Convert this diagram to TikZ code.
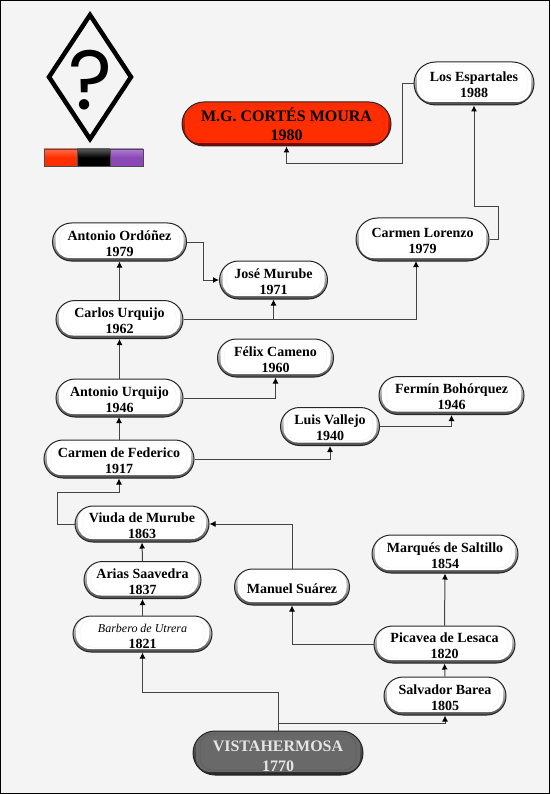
\documentclass[tikz,border=0pt]{standalone}
\usepackage{fontspec}
\setmainfont{Liberation Serif}
\newfontfamily\marksans{Poppins}
\usetikzlibrary{shapes.misc,shapes.geometric,arrows.meta}
\definecolor{paper}{HTML}{F4F4F4}
\definecolor{linkgray}{HTML}{444444}
\definecolor{mousered}{HTML}{FF2E00}
\definecolor{mousegrey}{HTML}{696969}
\definecolor{markviolet}{HTML}{8A48B8}
\newcommand{\down}{\rule{0pt}{12.5pt}}
\begin{document}
\begin{tikzpicture}[x=1pt,y=-1pt,
            shell/.style n args={3}{rounded rectangle, draw=black!85, line width=1pt, inner sep=0pt, align=center,
                top color=#1, middle color=#1, bottom color=#2,
                path picture={\fill[#1,rounded corners=14pt] ([shift={(3pt,3pt)}]path picture bounding box.south west) rectangle ([shift={(-3pt,-1pt)}]path picture bounding box.north east);
                    \draw[#3,line width=0.5pt,rounded corners=12pt] ([shift={(7pt,5pt)}]path picture bounding box.south west) rectangle ([shift={(-7pt,-3pt)}]path picture bounding box.north east);}},
            pill/.style={shell={white}{black!70}{black!5}, font=\fontsize{14}{16}\selectfont\bfseries},
            redpill/.style={shell={mousered}{red!50!black}{mousered!88!black}, font=\fontsize{16}{19}\selectfont\bfseries},
            greypill/.style={shell={mousegrey}{black!85}{mousegrey!88!black}, text=white!90!black, font=\fontsize{16}{20}\selectfont\bfseries},
            link/.style={draw=linkgray, line width=1pt},
            arrow/.style={link, -{Latex[black,length=6pt,width=6pt]}},
            bar/.style={draw=black!70, line width=0.5pt, minimum width=33pt, minimum height=17pt, inner sep=0pt}
            ]
            \fill[paper] (0,0) rectangle (550,794);
            \draw[black, line width=1pt] (0.5,0.5) rectangle (549.5,793.5);
            \useasboundingbox (0,0) rectangle (550,794);

            % mark
            \draw[black, line width=4.5pt, miter limit=10] (90,15) -- (131,77) -- (90,139) -- (49,77) -- cycle;
            \node[inner sep=0pt] (query) at (91,80) {\marksans\fontsize{84}{84}\selectfont ?};
            \node[bar, top color=mousered!70!white, bottom color=mousered, middle color=mousered] (barA) at (60.5,157.5) {};
            \node[bar, top color=black!65, bottom color=black, middle color=black] (barB) at (93.5,157.5) {};
            \node[bar, top color=markviolet!70!white, bottom color=markviolet, middle color=markviolet] (barC) at (126.5,157.5) {};

            % mares
            \node[pill, minimum width=120pt, minimum height=43pt] (esp) at (474,83.5) {\down Los Espartales\\1988};
            \node[redpill, minimum width=209pt, minimum height=44pt] (moura) at (286.5,124) {M.G. CORTÉS MOURA\\1980};
            \node[pill, minimum width=133pt, minimum height=43pt] (lorenzo) at (422.5,239.5) {\down Carmen Lorenzo\\1979};
            \node[pill, minimum width=134pt, minimum height=38pt] (ordonez) at (119.5,242) {\down Antonio Ordóñez\\1979};
            \node[pill, minimum width=108pt, minimum height=38pt] (jose) at (273.5,280) {\down José Murube\\1971};
            \node[pill, minimum width=127pt, minimum height=38pt] (carlos) at (119.5,319.5) {\down Carlos Urquijo\\1962};
            \node[pill, minimum width=116pt, minimum height=38pt] (felix) at (275.5,358) {\down Félix Cameno\\1960};
            \node[pill, minimum width=127pt, minimum height=38pt] (antonio) at (119.5,398) {\down Antonio Urquijo\\1946};
            \node[pill, minimum width=145pt, minimum height=38pt] (fermin) at (451.5,395.5) {\down Fermín Bohórquez\\1946};
            \node[pill, minimum width=99pt, minimum height=38pt] (luis) at (330,426.5) {\down Luis Vallejo\\1940};
            \node[pill, minimum width=150pt, minimum height=38pt] (federico) at (119,459) {\down Carmen de Federico\\1917};
            \node[pill, minimum width=134pt, minimum height=36pt] (viuda) at (142,524) {\down Viuda de Murube\\1863};
            \node[pill, minimum width=117pt, minimum height=37pt] (arias) at (142.5,580) {\down Arias Saavedra\\1837};
            \node[pill, minimum width=139pt, minimum height=36pt] (barbero) at (142.5,634) {\down\textit{\mdseries\fontsize{12}{16}\selectfont Barbero de Utrera}\\1821};
            \node[pill, minimum width=146pt, minimum height=38pt] (saltillo) at (445,554) {\down Marqués de Saltillo\\1854};
            \node[pill, minimum width=115pt, minimum height=36pt] (suarez) at (292,587) {\down Manuel Suárez};
            \node[pill, minimum width=141pt, minimum height=37pt] (picavea) at (444.5,644.5) {\down Picavea de Lesaca\\1820};
            \node[pill, minimum width=122pt, minimum height=38pt] (barea) at (445,696) {\down Salvador Barea\\1805};
            \node[greypill, minimum width=170pt, minimum height=44pt] (vista) at (278,753) {\rule{0pt}{16.5pt}VISTAHERMOSA\\1770};

            % links
            \draw[arrow] (esp.west) -- (402,83.5) |- (286.5,164) -- (moura.south);
            \draw[arrow] (lorenzo.east) -- (498,239.5) |- (474,207) -- (esp.south);
            \draw[arrow] (carlos.east) -| (416,261);
            \draw[arrow] (273.5,319.5) -- (jose.south);
            \draw[arrow] (ordonez.east) -- (203,242) |- (jose.west);
            \draw[arrow] (carlos.north) -- (ordonez.south);
            \draw[arrow] (antonio.north) -- (carlos.south);
            \draw[arrow] (antonio.east) -| (felix.south);
            \draw[arrow] (federico.north) -- (119,417);
            \draw[arrow] (federico.east) -| (luis.south);
            \draw[arrow] (luis.east) -| (fermin.south);
            \draw[arrow] (viuda.west) -- (57,524) |- (119,492) -- (federico.south);
            \draw[arrow] (arias.north) -- (viuda.south);
            \draw[arrow] (barbero.north) -- (arias.south);
            \draw[arrow] (vista.north) |- (142.5,692) -- (barbero.south);
            \draw[arrow] (278,723) -| (barea.south);
            \draw[arrow] (barea.north) -- (picavea.south);
            \draw[arrow] (picavea.north) -- (saltillo.south);
            \draw[arrow] (picavea.west) -| (suarez.south);
            \draw[arrow] (suarez.north) |- (viuda.east);
            \end{tikzpicture}
\end{document}
